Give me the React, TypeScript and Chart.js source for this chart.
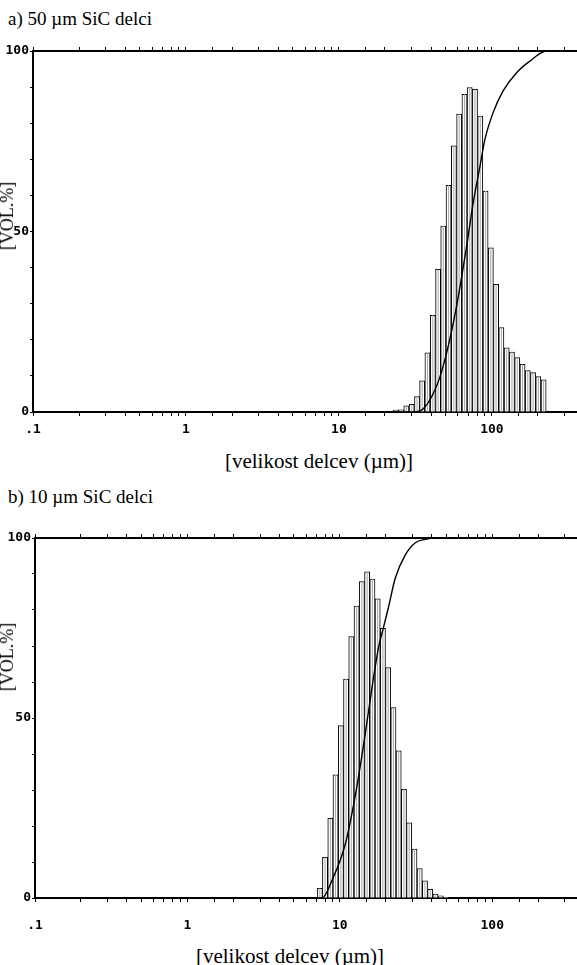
import React, { useEffect, useRef } from "react";
import { Chart, registerables } from "chart.js";

Chart.register(...registerables);

// ---------- data ----------
const tickValues = [0.1, 1, 10, 100];
const tickLabels = [".1", "1", "10", "100"];
const yLabelValues = [0, 50, 100];

// Panel a) 50 µm SiC
const sizesA = [23.6, 25.5, 27.6, 29.9, 32.4, 35.0, 37.9, 41.1, 44.5, 48.1, 52.1, 56.4, 61.1, 66.2, 71.6, 77.5, 83.9, 90.9, 98.4, 106.5, 115.3, 124.9, 135.2, 146.4, 158.5, 171.6, 185.8, 201.1, 217.8];
const histA = [0.5, 0.6, 1.7, 2.1, 4.3, 8.6, 16.4, 26.8, 39.5, 51.5, 62.8, 73.7, 82.5, 88.0, 89.9, 89.4, 82.0, 61.2, 45.5, 35.4, 23.4, 17.8, 16.6, 15.1, 13.2, 11.5, 10.9, 9.8, 8.9];
const cumSizesA = [0.1, 30, 33.8, 43.5, 50.6, 58.8, 68.4, 75.5, 83.5, 90.0, 102, 118.6, 145, 177, 227.5, 360];
const cumA = [0, 0, 0.3, 7.2, 16.4, 29.4, 46, 58, 68, 75.5, 83, 89, 94, 97.2, 100, 100];

// Panel b) 10 µm SiC
const sizesB = [7.39, 8.0, 8.67, 9.38, 10.16, 11.0, 11.9, 12.89, 13.95, 15.11, 16.36, 17.71, 19.17, 20.76, 22.47, 24.33, 26.34, 28.52, 30.87, 33.43, 36.19, 39.18, 42.42, 45.92, 49.72];
const histB = [2.7, 11.3, 22.1, 34.2, 47.9, 60.8, 72.6, 81.1, 87.9, 90.6, 88.6, 83.1, 74.9, 64.0, 52.9, 40.9, 30.2, 20.9, 13.6, 8.2, 4.8, 2.4, 1.1, 0.6, 0.2];
const cumSizesB = [0.1, 7.65, 8.91, 10.9, 12.7, 14.7, 16.3, 18.0, 19.4, 20.9, 23.1, 26.9, 31.3, 36.3, 42.2, 360];
const cumB = [0, 0, 5, 15.2, 29, 45.7, 58.7, 69.8, 75.4, 80.9, 88.8, 95.3, 98.7, 99.6, 100, 100];

const X_MIN = 0.1;
const X_MAX = 360;

type PanelCfg = {
  sizes: number[];
  hist: number[];
  cumSizes: number[];
  cum: number[];
  leftW: number;
  bottomH: number;
  padTop: number;
  labelPad: number;
};

const tickFont = { family: "'DejaVu Sans Mono', monospace", weight: "bold" as const, size: 13 };

function xLabel(v: number): string {
  for (let i = 0; i < tickValues.length; i++) {
    if (Math.abs(v - tickValues[i]) < tickValues[i] * 1e-6) return tickLabels[i];
  }
  return "";
}

function makeConfig(p: PanelCfg): any {
  const histPts = p.sizes.map((s, i) => ({ x: s, y: p.hist[i] }));
  const cumPts = p.cumSizes.map((s, i) => ({ x: s, y: p.cum[i] }));
  const axisGrid = {
    display: true,
    drawOnChartArea: false,
    drawTicks: true,
    tickLength: 4,
    color: "#000",
    lineWidth: 1,
    offset: false,
  };
  return {
    type: "bar",
    data: {
      datasets: [
        {
          type: "line",
          data: cumPts,
          borderColor: "#000",
          borderWidth: 1.4,
          pointRadius: 0,
          fill: false,
          cubicInterpolationMode: "monotone",
          order: 0,
        },
        {
          type: "bar",
          data: histPts,
          backgroundColor: "#a8a8a8",
          borderWidth: 0,
          barPercentage: 0.2,
          categoryPercentage: 1,
          grouped: false,
          order: 1,
        },
        {
          type: "bar",
          data: histPts,
          backgroundColor: "#ffffff",
          borderColor: "#000",
          borderWidth: 1,
          borderSkipped: "start",
          barPercentage: 1,
          categoryPercentage: 1,
          grouped: false,
          order: 2,
        },
      ],
    },
    options: {
      animation: false,
      responsive: false,
      devicePixelRatio: 1,
      layout: { padding: { top: p.padTop, left: 0, right: 0, bottom: 0 } },
      plugins: { legend: { display: false }, tooltip: { enabled: false } },
      scales: {
        x: {
          type: "logarithmic",
          position: "bottom",
          min: X_MIN,
          max: X_MAX,
          offset: false,
          afterFit: (s: any) => {
            s.height = p.bottomH;
            s.paddingLeft = 0;
            s.paddingRight = 0;
          },
          border: { display: true, color: "#000", width: 2 },
          grid: axisGrid,
          ticks: {
            autoSkip: false,
            maxRotation: 0,
            minRotation: 0,
            padding: p.labelPad,
            color: "#000",
            font: tickFont,
            callback: (v: any) => xLabel(Number(v)),
          },
        },
        x2: {
          type: "logarithmic",
          position: "top",
          min: X_MIN,
          max: X_MAX,
          offset: false,
          afterFit: (s: any) => {
            s.height = 0;
            s.paddingLeft = 0;
            s.paddingRight = 0;
          },
          border: { display: true, color: "#000", width: 2 },
          grid: axisGrid,
          ticks: { display: false, autoSkip: false, padding: 0, callback: () => "" },
        },
        y: {
          type: "linear",
          position: "left",
          min: 0,
          max: 100,
          afterFit: (s: any) => {
            s.width = p.leftW;
          },
          border: { display: true, color: "#000", width: 2 },
          grid: { display: true, drawOnChartArea: false, drawTicks: true, tickLength: 3, color: "#000", lineWidth: 1 },
          ticks: {
            stepSize: 10,
            autoSkip: false,
            padding: 1,
            color: "#000",
            font: tickFont,
            callback: (v: any) => (yLabelValues.includes(Number(v)) ? String(v) : ""),
          },
        },
      },
    },
  };
}

function Panel(props: { cfg: PanelCfg; top: number; height: number }) {
  const ref = useRef<HTMLCanvasElement>(null);
  useEffect(() => {
    if (!ref.current) return;
    const chart = new Chart(ref.current, makeConfig(props.cfg));
    return () => chart.destroy();
  }, []);
  return (
    <canvas
      ref={ref}
      width={577}
      height={props.height}
      style={{ position: "absolute", left: 0, top: props.top, width: 577, height: props.height }}
    />
  );
}

const serif = "'Liberation Serif', 'Times New Roman', serif";

function YTitle(props: { cy: number }) {
  return (
    <div
      style={{
        position: "absolute",
        left: 7,
        top: props.cy,
        transform: "translate(-50%, -50%) rotate(-90deg)",
        fontFamily: serif,
        fontSize: 18,
        lineHeight: "18px",
        whiteSpace: "nowrap",
      }}
    >
      [VOL.%]
    </div>
  );
}

function XTitle(props: { cx: number; cy: number }) {
  return (
    <div
      style={{
        position: "absolute",
        left: props.cx,
        top: props.cy,
        transform: "translate(-50%, -50%)",
        fontFamily: serif,
        fontSize: 21,
        lineHeight: "24px",
        whiteSpace: "nowrap",
      }}
    >
      [velikost delcev (µm)]
    </div>
  );
}

export default function App() {
  const cfgA: PanelCfg = {
    sizes: sizesA,
    hist: histA,
    cumSizes: cumSizesA,
    cum: cumA,
    leftW: 33,
    bottomH: 28,
    padTop: 11,
    labelPad: 6,
  };
  const cfgB: PanelCfg = {
    sizes: sizesB,
    hist: histB,
    cumSizes: cumSizesB,
    cum: cumB,
    leftW: 35,
    bottomH: 40,
    padTop: 18,
    labelPad: 16,
  };
  return (
    <div
      style={{
        position: "absolute",
        left: 0,
        top: 0,
        width: 577,
        height: 965,
        overflow: "hidden",
        background: "#fff",
        color: "#000",
      }}
    >
      <div style={{ position: "absolute", left: 8, top: 8, fontFamily: serif, fontSize: 19, lineHeight: "22px", whiteSpace: "nowrap" }}>
        a) 50 µm SiC delci
      </div>
      <Panel cfg={cfgA} top={40} height={400} />
      <YTitle cy={216} />
      <XTitle cx={319} cy={461} />

      <div style={{ position: "absolute", left: 8, top: 486, fontFamily: serif, fontSize: 19, lineHeight: "22px", whiteSpace: "nowrap" }}>
        b) 10 µm SiC delci
      </div>
      <Panel cfg={cfgB} top={520} height={418} />
      <YTitle cy={657} />
      <XTitle cx={290} cy={956} />
    </div>
  );
}
